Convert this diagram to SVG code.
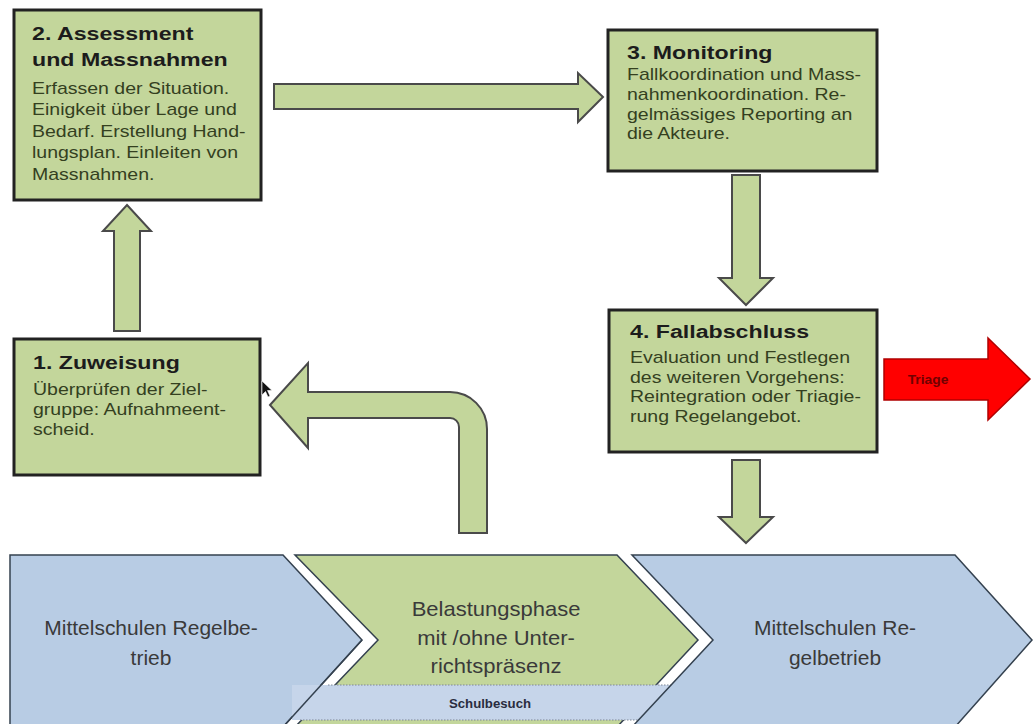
<svg xmlns="http://www.w3.org/2000/svg" width="1034" height="724" viewBox="0 0 1034 724">
<style>
.box{fill:#c3d69b;stroke:#222;stroke-width:3}
.title{font-family:"Liberation Sans",Arial,sans-serif;font-weight:bold;font-size:19px;fill:#1c1c1c}
.body{font-family:"Liberation Sans",Arial,sans-serif;font-size:16px;fill:#34401f}
.arrow{fill:#c3d69b;stroke:#4a4a4a;stroke-width:2;stroke-linejoin:miter}
.chev-b{fill:#b8cce4;stroke:#34414f;stroke-width:1.5}
.chev-g{fill:#c3d69b;stroke:#34414f;stroke-width:1.5}
.big{font-family:"Liberation Sans",Arial,sans-serif;font-size:20px;fill:#3a3a3a}
.dots{fill:none;stroke:#7f8896;stroke-width:1.2;stroke-dasharray:1.5,1.5}
</style>
<rect width="1034" height="724" fill="#ffffff"/>

<g id="connectors">
  <path class="arrow" d="M127,205 L151,231 L140,231 L140,331 L114,331 L114,231 L103,231 Z"/>
  <path class="arrow" d="M603,97 L578,73 L578,84 L274,84 L274,109 L578,109 L578,122 Z"/>
  <path class="arrow" d="M746,305 L773,278 L760,278 L760,175 L732,175 L732,278 L719,278 Z"/>
  <path class="arrow" d="M746,543 L773,517 L760,517 L760,460 L732,460 L732,517 L719,517 Z"/>
  <path class="arrow" d="M270,405 L308,363 L308,392 L450,392 A37,37 0 0 1 487,429 L487,533 L459,533 L459,427 A9,9 0 0 0 450,418 L308,418 L308,448 Z"/>
  <g id="triage">
    <path d="M1030,379 L988,338 L988,359 L884,359 L884,400 L988,400 L988,420 Z" fill="#ff0000" stroke="#b00000" stroke-width="1.5"/>
    <g transform="translate(928,0) scale(1.15,1)">
      <text x="0" y="384" text-anchor="middle" font-family="'Liberation Sans',Arial,sans-serif" font-weight="bold" font-size="12" fill="#700000">Triage</text>
    </g>
  </g>
</g>

<g id="node-assessment">
  <rect class="box" x="14" y="10" width="247" height="190"/>
  <g transform="translate(32,0) scale(1.22,1)">
    <text class="title" x="0" y="40">2. Assessment</text>
    <text class="title" x="0" y="66">und Massnahmen</text>
    <text class="body" x="0" y="94">Erfassen der Situation.</text>
    <text class="body" x="0" y="115.5">Einigkeit über Lage und</text>
    <text class="body" x="0" y="137">Bedarf. Erstellung Hand-</text>
    <text class="body" x="0" y="158.5">lungsplan. Einleiten von</text>
    <text class="body" x="0" y="180">Massnahmen.</text>
  </g>
</g>

<g id="node-monitoring">
  <rect class="box" x="608" y="30" width="269" height="141"/>
  <g transform="translate(627,0) scale(1.22,1)">
    <text class="title" x="0" y="59">3. Monitoring</text>
    <text class="body" x="0" y="80">Fallkoordination und Mass-</text>
    <text class="body" x="0" y="100">nahmenkoordination. Re-</text>
    <text class="body" x="0" y="120">gelmässiges Reporting an</text>
    <text class="body" x="0" y="139">die Akteure.</text>
  </g>
</g>

<g id="node-fallabschluss">
  <rect class="box" x="609" y="310" width="268" height="142"/>
  <g transform="translate(630,0) scale(1.22,1)">
    <text class="title" x="0" y="338">4. Fallabschluss</text>
    <text class="body" x="0" y="363">Evaluation und Festlegen</text>
    <text class="body" x="0" y="383">des weiteren Vorgehens:</text>
    <text class="body" x="0" y="402">Reintegration oder Triagie-</text>
    <text class="body" x="0" y="422">rung Regelangebot.</text>
  </g>
</g>

<g id="node-zuweisung">
  <rect class="box" x="14" y="339" width="246" height="136"/>
  <g transform="translate(33,0) scale(1.22,1)">
    <text class="title" x="0" y="369">1. Zuweisung</text>
    <text class="body" x="0" y="395">Überprüfen der Ziel-</text>
    <text class="body" x="0" y="415">gruppe: Aufnahmeent-</text>
    <text class="body" x="0" y="435">scheid.</text>
  </g>
</g>

<path d="M262,381 L262,395 L265.5,391.5 L268,397 L270,396 L267.5,390.5 L272,390.5 Z" fill="#111" stroke="#fff" stroke-width="0.6"/>

<g id="node-regelbetrieb-1">
  <polygon class="chev-b" points="10,555 283,555 362,640 283,727 10,727"/>
  <g transform="translate(151,0) scale(1.05,1)">
    <text class="big" x="0" y="635" text-anchor="middle">Mittelschulen Regelbe-</text>
    <text class="big" x="0" y="665" text-anchor="middle">trieb</text>
  </g>
</g>

<g id="node-belastung">
  <polygon class="chev-g" points="295,555 617,555 698,640 617,727 295,727 378,640"/>
  <g transform="translate(496,0) scale(1.1,1)">
    <text class="big" x="0" y="616" text-anchor="middle" fill="#3b4526">Belastungsphase</text>
    <text class="big" x="0" y="645" text-anchor="middle" fill="#3b4526">mit /ohne Unter-</text>
    <text class="big" x="0" y="673" text-anchor="middle" fill="#3b4526">richtspräsenz</text>
  </g>
</g>

<g id="node-schulbesuch">
  <rect x="292" y="685" width="388" height="35" fill="#c6d5ea"/>
  <line class="dots" x1="328" y1="685" x2="680" y2="685"/>
  <line class="dots" x1="300" y1="720" x2="680" y2="720"/>
  <polyline points="362,640 283,727" fill="none" stroke="#34414f" stroke-width="1.5"/>
  <g transform="translate(490,0) scale(1.1,1)">
    <text x="0" y="708" text-anchor="middle" font-family="'Liberation Sans',Arial,sans-serif" font-weight="bold" font-size="12" fill="#2a2d40">Schulbesuch</text>
  </g>
</g>

<g id="node-regelbetrieb-2">
  <polygon class="chev-b" points="632,555 955,555 1032,640 955,727 632,727 713,640"/>
  <g transform="translate(835,0) scale(1.05,1)">
    <text class="big" x="0" y="635" text-anchor="middle">Mittelschulen Re-</text>
    <text class="big" x="0" y="665" text-anchor="middle">gelbetrieb</text>
  </g>
</g>
</svg>
